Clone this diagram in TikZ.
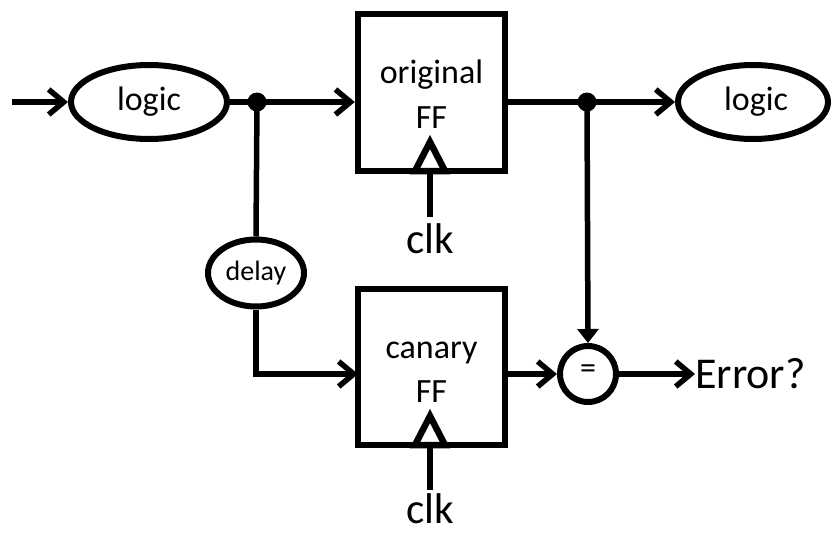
\documentclass[tikz,border=0pt]{standalone}
\usepackage{fontspec}
\setmainfont{Carlito}
\usetikzlibrary{arrows.meta,shapes.geometric}
\begin{document}
\begin{tikzpicture}[x=1pt,y=-1pt,
  wire/.style={line width=5.5pt},
  arr/.style={wire,-{Straight Barb[length=15pt,width=25pt,line width=5.5pt]}},
  tarr/.style={wire,-{Triangle[length=14pt,width=21pt]}},
  ell/.style={draw,ellipse,line width=6pt,inner sep=0pt},
  ffbox/.style={draw,rectangle,line width=6.5pt,minimum width=147pt,minimum height=157pt,inner sep=0pt},
  lbl/.style={inner sep=0pt,font=\fontsize{34}{40}\selectfont},
  clklbl/.style={inner sep=0pt,font=\fontsize{43}{50}\selectfont},
  dot/.style={circle,fill=black,inner sep=0pt,minimum size=19pt},
  clktri/.style={line width=6.5pt,fill=white,line join=miter}
]
\useasboundingbox (0,0) rectangle (833,533);

% nodes
\coordinate (start) at (12,102);
\node[ell,minimum width=156pt,minimum height=74pt] (logicL) at (149,102) {};
\node[lbl] (logicLt) at (149,102) {logic};
\node[dot] (dotL) at (257,102) {};
\node[ffbox] (ffO) at (431.5,92.5) {};
\node[lbl,anchor=base] (ffOt1) at (431.5,83) {original};
\node[lbl,anchor=base] (ffOt2) at (431.5,128) {FF};
\node[dot] (dotR) at (587,102) {};
\node[ell,minimum width=150pt,minimum height=74pt] (logicR) at (753,102) {};
\node[lbl] (logicRt) at (756,102) {logic};

\node[ell,minimum width=96pt,minimum height=67pt] (delay) at (256,273) {};
\node[inner sep=0pt,font=\fontsize{28}{32}\selectfont] (delayt) at (256,273) {delay};

\node[ffbox,minimum height=156pt] (ffC) at (431.5,367) {};
\node[lbl,anchor=base] (ffCt1) at (431.5,358) {canary};
\node[lbl,anchor=base] (ffCt2) at (431.5,402) {FF};
\coordinate (inC) at (358,374);

\node[draw,circle,line width=6pt,minimum size=56pt,inner sep=0pt] (eq) at (588,374) {};
\node[inner sep=0pt,font=\fontsize{32}{36}\selectfont] (eqt) at (588,372) {=};
\node[inner sep=0pt,anchor=west,font=\fontsize{44}{50}\selectfont] (err) at (695,374) {Error?};

% clocks
\coordinate (trObase) at (430,171);
\coordinate (trCbase) at (430,445);
\coordinate (clkOend) at (430,217);
\coordinate (clkCend) at (430,490);
\node[clklbl] (clkO) at (430,239) {clk};
\node[clklbl] (clkC) at (430,509) {clk};
\draw[clktri] ([xshift=-15pt]trObase) -- ([yshift=29pt]trObase) -- ([xshift=15pt]trObase) -- cycle;
\draw[clktri] ([xshift=-15pt]trCbase) -- ([yshift=29pt]trCbase) -- ([xshift=15pt]trCbase) -- cycle;
\draw[wire] (clkOend) -- (trObase);
\draw[wire] (clkCend) -- (trCbase);

% connectors
\draw[arr] (start) -- (logicL.west);
\draw[wire] (logicL.east) -- (dotL.center);
\draw[arr] (dotL.center) -- (ffO.west |- dotL);
\draw[wire] (ffO.east |- dotR) -- (dotR.center);
\draw[arr] (dotR.center) -- (logicR.west);
\draw[tarr] (dotR.center) -- (eq.north);
\draw[wire] (dotL.center) -- (delay.north);
\draw[arr] (delay.south) |- (inC);
\draw[arr] (ffC.east |- eq) -- (eq.west);
\draw[arr] (eq.east) -- (err.west);
\end{tikzpicture}
\end{document}
